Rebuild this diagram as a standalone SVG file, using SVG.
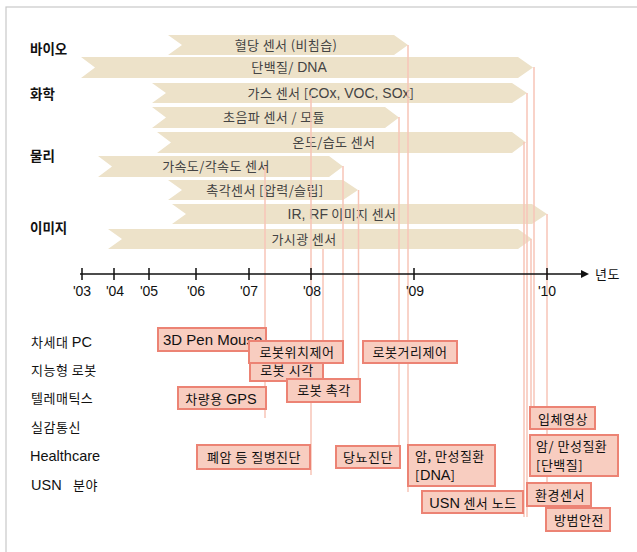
<svg xmlns="http://www.w3.org/2000/svg" width="637" height="552" viewBox="0 0 637 552">
<style>
.k{font-family:"Noto Sans CJK KR","Noto Sans",sans-serif;font-size:13px;fill:#111;letter-spacing:0.5px}
.l{font-family:"Liberation Sans",Arial,sans-serif;font-size:14.5px;letter-spacing:0}
.bar{fill:#EDE2C9}
.bt{font-family:"Noto Sans CJK KR","Noto Sans",sans-serif;font-size:13px;fill:#444;text-anchor:middle;letter-spacing:0.4px}
.bl{font-family:"Liberation Sans",Arial,sans-serif;font-size:14px;letter-spacing:0}
.cat{font-family:"Noto Sans CJK KR","Noto Sans",sans-serif;font-size:13.5px;font-weight:bold;fill:#111}
.box{fill:#F8CDC0;stroke:#EC8374;stroke-width:2}
.c{text-anchor:middle}
.vl{stroke:#F7C4B7;stroke-width:1.5;fill:none}
.ax{stroke:#111;stroke-width:1.5;fill:none}
.tk{font-family:"Liberation Sans",Arial,sans-serif;font-size:14px;fill:#111;text-anchor:middle}
</style>
<rect x="6" y="7" width="650" height="560" fill="#fff" stroke="#C8C8C8" stroke-width="1.2"/>

<g id="categories">
<text class="cat" x="30" y="54">바이오</text>
<text class="cat" x="30" y="99">화학</text>
<text class="cat" x="30" y="161">물리</text>
<text class="cat" x="30" y="233">이미지</text>
</g>

<g id="bars">
<g id="bar1"><path class="bar" d="M168,35 L394,35 L408,45 L394,55 L168,55 L182,45 Z"/><text class="bt" x="286" y="50">혈당 센서 (비침습)</text></g>
<g id="bar2"><path class="bar" d="M81,57 L518,57 L533,67.5 L518,78 L81,78 L95,67.5 Z"/><text class="bt" x="289" y="72">단백질/ <tspan class="bl">DNA</tspan></text></g>
<g id="bar3"><path class="bar" d="M152,83 L512,83 L527,93 L512,103 L152,103 L166,93 Z"/><text class="bt" x="331" y="98">가스 센서 [<tspan class="bl">COx, VOC, SOx</tspan>]</text></g>
<g id="bar4"><path class="bar" d="M152,107 L385,107 L399,117.5 L385,128 L152,128 L166,117.5 Z"/><text class="bt" x="274" y="122">초음파 센서 / 모듈</text></g>
<g id="bar5"><path class="bar" d="M157,132 L512,132 L526,142.5 L512,153 L157,153 L171,142.5 Z"/><text class="bt" x="334" y="147">온도/습도 센서</text></g>
<g id="bar6"><path class="bar" d="M98,156 L329,156 L343,166.5 L329,177 L98,177 L112,166.5 Z"/><text class="bt" x="216" y="171">가속도/각속도 센서</text></g>
<g id="bar7"><path class="bar" d="M168,180 L343,180 L358,190 L343,200 L168,200 L182,190 Z"/><text class="bt" x="265" y="195">촉각센서 [압력/슬립]</text></g>
<g id="bar8"><path class="bar" d="M172,204 L532,204 L547,214 L532,224 L172,224 L186,214 Z"/><text class="bt" x="342" y="219"><tspan class="bl">IR, RF</tspan> 이미지 센서</text></g>
<g id="bar9"><path class="bar" d="M108,229 L518,229 L532,239 L518,249 L108,249 L122,239 Z"/><text class="bt" x="304" y="244">가시광 센서</text></g>
</g>

<g id="connectors">
<line class="vl" x1="265" y1="166" x2="265" y2="418"/>
<line class="vl" x1="311" y1="95" x2="311" y2="475"/>
<line class="vl" x1="323" y1="249" x2="323" y2="366"/>
<line class="vl" x1="343" y1="166" x2="343" y2="342"/>
<line class="vl" x1="358.5" y1="190" x2="358.5" y2="380"/>
<line class="vl" x1="399" y1="117" x2="399" y2="466"/>
<line class="vl" x1="408" y1="45" x2="408" y2="492"/>
<line class="vl" x1="524" y1="142" x2="524" y2="517"/>
<line class="vl" x1="527" y1="93" x2="527" y2="517"/>
<line class="vl" x1="531" y1="239" x2="531" y2="408"/>
<line class="vl" x1="534" y1="67" x2="534" y2="408"/>
<line class="vl" x1="547" y1="214" x2="547" y2="484"/>
</g>

<g id="axis">
<line class="ax" x1="80" y1="274" x2="583" y2="274"/>
<polygon points="581,270 589,274 581,278" fill="#111"/>
<path class="ax" d="M82,268V280 M114,268V280 M149,268V280 M196,268V280 M249,268V280 M311,268V280 M414,268V280 M547,268V280"/>
<text class="tk" x="82" y="296">'03</text>
<text class="tk" x="115" y="296">'04</text>
<text class="tk" x="149" y="296">'05</text>
<text class="tk" x="196" y="296">'06</text>
<text class="tk" x="249" y="296">'07</text>
<text class="tk" x="312" y="296">'08</text>
<text class="tk" x="415" y="296">'09</text>
<text class="tk" x="547" y="296">'10</text>
<text class="k" x="595" y="279">년도</text>
</g>

<g id="rows">
<text class="k" x="31" y="347">차세대 <tspan class="l">PC</tspan></text>
<text class="k" x="31" y="375">지능형 로봇</text>
<text class="k" x="31" y="403">텔레매틱스</text>
<text class="k" x="31" y="432">실감통신</text>
<text class="k" x="30" y="461"><tspan class="l">Healthcare</tspan></text>
<text class="k" x="31" y="490"><tspan class="l">USN</tspan></text>
<text class="k" x="73" y="490">분야</text>
</g>

<g id="boxes">
<g id="b-3dpen"><rect class="box" x="158" y="328" width="108" height="23"/><text class="k" x="163" y="345"><tspan class="l" style="font-size:15px">3D Pen Mouse</tspan></text></g>
<g id="b-vision"><rect class="box" x="250" y="358" width="73" height="23"/><text class="k c" x="287" y="375">로봇 시각</text></g>
<g id="b-pos"><rect class="box" x="249" y="341" width="94" height="22"/><text class="k c" x="297" y="357">로봇위치제어</text></g>
<g id="b-touch"><rect class="box" x="287" y="379" width="73" height="23"/><text class="k c" x="324" y="395">로봇 촉각</text></g>
<g id="b-gps"><rect class="box" x="178" y="387" width="88" height="22"/><text class="k c" x="221" y="404">차량용 <tspan class="l">GPS</tspan></text></g>
<g id="b-dist"><rect class="box" x="363" y="341" width="94" height="22"/><text class="k c" x="410" y="357">로봇거리제어</text></g>
<g id="b-3d"><rect class="box" x="530" y="407" width="65" height="22"/><text class="k c" x="563" y="424">입체영상</text></g>
<g id="b-cancer2"><rect class="box" x="530" y="435" width="88" height="41"/><text class="k" x="536" y="451">암/ 만성질환</text><text class="k" x="536" y="470">[단백질]</text></g>
<g id="b-lung"><rect class="box" x="197" y="445" width="113" height="24"/><text class="k c" x="254" y="462">폐암 등 질병진단</text></g>
<g id="b-diab"><rect class="box" x="336" y="446" width="64" height="22"/><text class="k c" x="368" y="462">당뇨진단</text></g>
<g id="b-cancer1"><rect class="box" x="408" y="445" width="87" height="41"/><text class="k" x="415" y="461">암, 만성질환</text><text class="k" x="415" y="480">[<tspan class="l">DNA</tspan>]</text></g>
<g id="b-usn"><rect class="box" x="422" y="491" width="101" height="22"/><text class="k c" x="473" y="508"><tspan class="l">USN</tspan> 센서 노드</text></g>
<g id="b-env"><rect class="box" x="527" y="483" width="64" height="23"/><text class="k c" x="560" y="500">환경센서</text></g>
<g id="b-sec"><rect class="box" x="546" y="508" width="64" height="23"/><text class="k c" x="579" y="525">방범안전</text></g>
</g>
</svg>
